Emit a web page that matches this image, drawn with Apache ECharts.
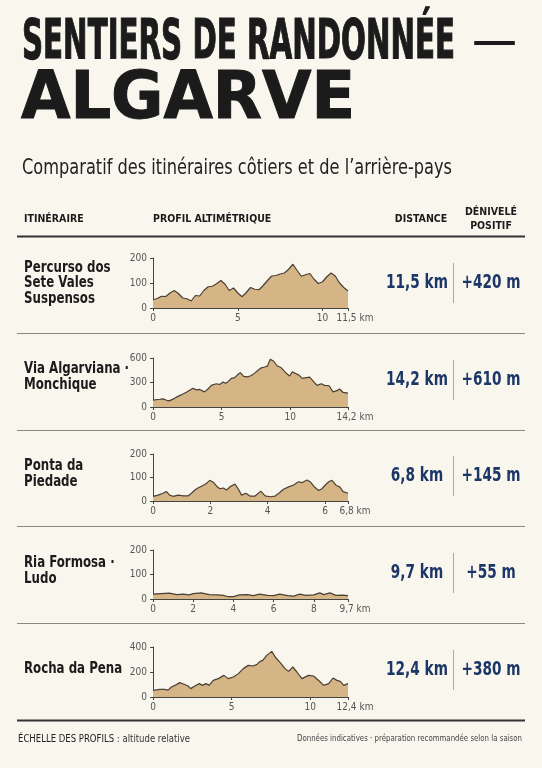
<!DOCTYPE html>
<html><head><meta charset="utf-8">
<script src="https://cdn.jsdelivr.net/npm/echarts@6/dist/echarts.min.js"></script>
<style>html,body{margin:0;padding:0;background:#f9f6ed;}#c{width:542px;height:768px;}</style>
</head><body><div id="c"></div>
<script>
// ---------- DATA ----------
const routeNames = ['Percurso dos\nSete Vales\nSuspensos', 'Via Algarviana ·\nMonchique', 'Ponta da\nPiedade', 'Ria Formosa ·\nLudo', 'Rocha da Pena'];
const distancesKm = [11.5, 14.2, 6.8, 9.7, 12.4];
const gainsM = [420, 610, 145, 55, 380];
const yMaxes = [200, 600, 200, 200, 400];
const yIntervals = [100, 300, 100, 100, 200];
const xTickValues = [[0, 5, 10, 11.5], [0, 5, 10, 14.2], [0, 2, 4, 6, 6.8], [0, 2, 4, 6, 8, 9.7], [0, 5, 10, 12.4]];
const xTickLabels = [['0', '5', '10', '11,5 km'], ['0', '5', '10', '14,2 km'], ['0', '2', '4', '6', '6,8 km'], ['0', '2', '4', '6', '8', '9,7 km'], ['0', '5', '10', '12,4 km']];

const profile1Km = [0,0.25,0.5,0.75,1,1.25,1.5,1.75,2,2.25,2.5,2.75,3,3.25,3.5,3.75,4,4.25,4.5,4.75,5,5.25,5.5,5.75,6,6.25,6.5,6.75,7,7.25,7.5,7.75,8,8.25,8.5,8.75,9,9.25,9.5,9.75,10,10.25,10.5,10.75,11,11.25,11.5];
const profile1Alt = [33,38,47,46,60,70,58,40,37,28,50,48,70,85,87,97,110,95,70,80,60,45,62,82,75,73,90,110,128,130,136,140,155,175,150,127,133,138,115,98,105,125,140,128,100,82,68];

const profile2Km = [0,0.5,0.73,1,1.17,1.5,1.82,2.18,2.43,2.67,2.91,3.16,3.4,3.76,4,4.25,4.61,4.85,5.1,5.3,5.46,5.7,5.95,6.19,6.36,6.6,6.92,7.16,7.4,7.65,7.89,8.13,8.33,8.54,8.79,9.03,9.34,9.66,9.95,10.15,10.39,10.63,10.87,11.17,11.41,11.65,11.94,12.26,12.5,12.82,13.11,13.4,13.59,13.83,14.2];
const profile2Alt = [85,95,100,82,75,100,130,160,180,205,230,210,215,185,220,265,285,275,305,290,310,350,360,400,420,375,370,385,415,450,480,490,500,585,560,505,480,420,380,430,410,390,350,360,365,320,265,285,265,260,185,200,220,180,170];

const profile3Km = [0,0.18,0.35,0.47,0.58,0.7,0.88,1.05,1.23,1.34,1.46,1.58,1.69,1.81,1.89,1.98,2.1,2.22,2.33,2.45,2.57,2.68,2.86,2.98,3.09,3.24,3.38,3.56,3.76,3.91,4.08,4.26,4.41,4.55,4.73,4.9,5.08,5.19,5.37,5.48,5.62,5.78,5.89,6.01,6.13,6.24,6.39,6.51,6.63,6.8];
const profile3Alt = [20,25,33,40,25,20,25,22,22,33,47,56,63,70,78,88,80,63,52,55,47,60,72,50,25,33,21,21,42,22,18,21,35,50,60,68,82,78,89,82,61,45,52,68,82,88,66,60,40,33];

const profile4Km = [0,0.4,0.8,1.2,1.5,1.8,2,2.4,2.8,3.2,3.5,3.7,4,4.3,4.7,5,5.3,5.7,6,6.3,6.7,7,7.3,7.6,8,8.3,8.5,8.8,9.1,9.4,9.7];
const profile4Alt = [20,22,24,18,20,17,22,25,18,17,15,10,10,17,18,14,20,15,14,20,14,12,20,15,17,25,18,25,15,16,14];

const profile5Km = [0,0.43,0.74,0.96,1.17,1.49,1.7,1.81,2.02,2.23,2.4,2.66,2.94,3.15,3.36,3.57,3.83,4.15,4.51,4.79,5.11,5.43,5.74,6.06,6.34,6.6,6.81,6.98,7.23,7.55,7.77,8.09,8.4,8.62,8.89,9.15,9.47,9.89,10.21,10.64,10.85,11.17,11.45,11.7,11.91,12.13,12.4];
const profile5Alt = [53,61,61,55,80,99,115,120,100,88,67,88,107,93,107,93,133,147,173,147,160,187,227,253,248,259,285,293,333,365,320,275,227,205,240,200,147,173,168,120,93,107,152,133,125,93,107];

const profilesKm = [profile1Km, profile2Km, profile3Km, profile4Km, profile5Km];
const profilesAlt = [profile1Alt, profile2Alt, profile3Alt, profile4Alt, profile5Alt];

// ---------- LAYOUT ----------
const NARROW = "'Liberation Sans Narrow','DejaVu Sans Condensed','Roboto',sans-serif";
const gridTops = [258, 358, 454, 550, 647];
const gridHeights = [50, 49, 47, 49, 50];
const nameCenters = [283, 377, 474, 571, 669];
const valueCenters = [283, 380, 476, 573, 670];
const sepYs = [333, 430, 526, 623];
const ink = '#1b1b1b', navy = '#1c3767', axisCol = '#444', lab = '#555';
const fill = '#d5b485', outline = '#4a4036';

const cv = document.createElement('canvas').getContext('2d');
function fitScale(text, font, w) { cv.font = font; return w / cv.measureText(text).width; }

const chart = echarts.init(document.getElementById('c'), null, {renderer: 'canvas'});

const grids = [], xAxes = [], yAxes = [], series = [];
for (let i = 0; i < 5; i++) {
  grids.push({left: 153, width: 195, top: gridTops[i], height: gridHeights[i], containLabel: false});
  const vals = xTickValues[i], labs = xTickLabels[i];
  xAxes.push({
    type: 'value', gridIndex: i, min: 0, max: distancesKm[i],
    axisLine: {show: true, onZero: false, lineStyle: {color: axisCol, width: 1}},
    axisTick: {show: true, customValues: vals, length: 3, lineStyle: {color: axisCol}},
    axisLabel: {customValues: vals, fontSize: 10, color: lab, fontFamily: NARROW, margin: 5,
      rich: {e: {fontSize: 10, color: lab, fontFamily: NARROW, padding: [0, 0, 0, 14]}},
      formatter: v => {
        const k = vals.findIndex(t => Math.abs(t - v) < 1e-6);
        if (k < 0) return '';
        return k === vals.length - 1 ? '{e|' + labs[k] + '}' : labs[k];
      }},
    splitLine: {show: false}
  });
  yAxes.push({
    type: 'value', gridIndex: i, min: 0, max: yMaxes[i], interval: yIntervals[i],
    axisLine: {show: true, lineStyle: {color: axisCol, width: 1}},
    axisTick: {show: true, length: 3, lineStyle: {color: axisCol}},
    axisLabel: {fontSize: 10, color: lab, fontFamily: NARROW, margin: 6},
    splitLine: {show: false}
  });
  series.push({
    type: 'line', xAxisIndex: i, yAxisIndex: i, symbol: 'none', silent: true,
    data: profilesKm[i].map((k, j) => [k, profilesAlt[i][j]]),
    lineStyle: {color: outline, width: 1.2},
    areaStyle: {color: fill, opacity: 1},
    z: 2
  });
}

const g = [];
// Title
const t1 = 'SENTIERS DE RANDONNÉE';
const f1 = `bold 55px ${NARROW}`;
g.push({type: 'text', x: 22, y: 44, scaleX: fitScale(t1, f1, 433), style: {text: t1, font: f1, fill: ink, stroke: ink, lineWidth: 1.2, verticalAlign: 'middle'}});
const fd = `55px ${NARROW}`;
g.push({type: 'text', x: 472, y: 44, scaleX: fitScale('—', fd, 45), style: {text: '—', font: fd, fill: ink, verticalAlign: 'middle'}});
const t2 = 'ALGARVE';
const f2 = `bold 66px ${NARROW}`;
g.push({type: 'text', x: 21, y: 101, scaleX: fitScale(t2, f2, 334), style: {text: t2, font: f2, fill: ink, stroke: ink, lineWidth: 1, verticalAlign: 'middle'}});
const t3 = "Comparatif des itinéraires côtiers et de l’arrière-pays";
const f3 = `21px ${NARROW}`;
g.push({type: 'text', x: 22, y: 169, scaleX: fitScale(t3, f3, 430), style: {text: t3, font: f3, fill: '#222', verticalAlign: 'middle'}});

// Header
const hf = `bold 10.5px ${NARROW}`;
const headers = [
  {t: 'ITINÉRAIRE', x: 24, y: 219, a: 'left'},
  {t: 'PROFIL ALTIMÉTRIQUE', x: 153, y: 219, a: 'left'},
  {t: 'DISTANCE', x: 421, y: 219, a: 'center'},
  {t: 'DÉNIVELÉ', x: 491, y: 212, a: 'center'},
  {t: 'POSITIF', x: 491, y: 226, a: 'center'}
];
headers.forEach(h => g.push({type: 'text', x: h.x, y: h.y, style: {text: h.t, font: hf, fill: ink, align: h.a, verticalAlign: 'middle'}}));
g.push({type: 'line', shape: {x1: 17, y1: 236.5, x2: 525, y2: 236.5}, style: {stroke: '#333', lineWidth: 2}});

// Rows
const nameFont = `bold 16px ${NARROW}`;
const valFont = `bold 19px ${NARROW}`;
for (let i = 0; i < 5; i++) {
  g.push({type: 'text', x: 24, y: nameCenters[i], scaleX: 0.82, style: {text: routeNames[i], font: nameFont, lineHeight: 15.5, fill: ink, verticalAlign: 'middle'}});
  g.push({type: 'text', x: 417, y: valueCenters[i], scaleX: 0.8, style: {text: String(distancesKm[i]).replace('.', ',') + ' km', font: valFont, fill: navy, align: 'center', verticalAlign: 'middle'}});
  g.push({type: 'line', shape: {x1: 453.5, y1: valueCenters[i] - 20, x2: 453.5, y2: valueCenters[i] + 20}, style: {stroke: '#aaa', lineWidth: 1}});
  g.push({type: 'text', x: 491, y: valueCenters[i], scaleX: 0.8, style: {text: '+' + gainsM[i] + ' m', font: valFont, fill: navy, align: 'center', verticalAlign: 'middle'}});
}
sepYs.forEach(y => g.push({type: 'line', shape: {x1: 17, y1: y + 0.5, x2: 525, y2: y + 0.5}, style: {stroke: '#888', lineWidth: 1}}));
g.push({type: 'line', shape: {x1: 17, y1: 720.5, x2: 525, y2: 720.5}, style: {stroke: '#333', lineWidth: 2}});

// Footer
const fl = 'ÉCHELLE DES PROFILS : altitude relative';
const ff = `11px ${NARROW}`;
g.push({type: 'text', x: 18, y: 739, scaleX: fitScale(fl, ff, 172), style: {
  text: '{b|ÉCHELLE DES PROFILS} : altitude relative',
  rich: {b: {font: ff, fill: '#222'}},
  font: ff, fill: '#333', verticalAlign: 'middle'}});
const fr = 'Données indicatives · préparation recommandée selon la saison';
const frf = `9.5px ${NARROW}`;
g.push({type: 'text', x: 522, y: 739, scaleX: fitScale(fr, frf, 225), style: {text: fr, font: frf, fill: '#444', align: 'right', verticalAlign: 'middle'}});

chart.setOption({
  backgroundColor: '#f9f6ed',
  animation: false,
  grid: grids, xAxis: xAxes, yAxis: yAxes, series: series,
  graphic: g
});
</script></body></html>
